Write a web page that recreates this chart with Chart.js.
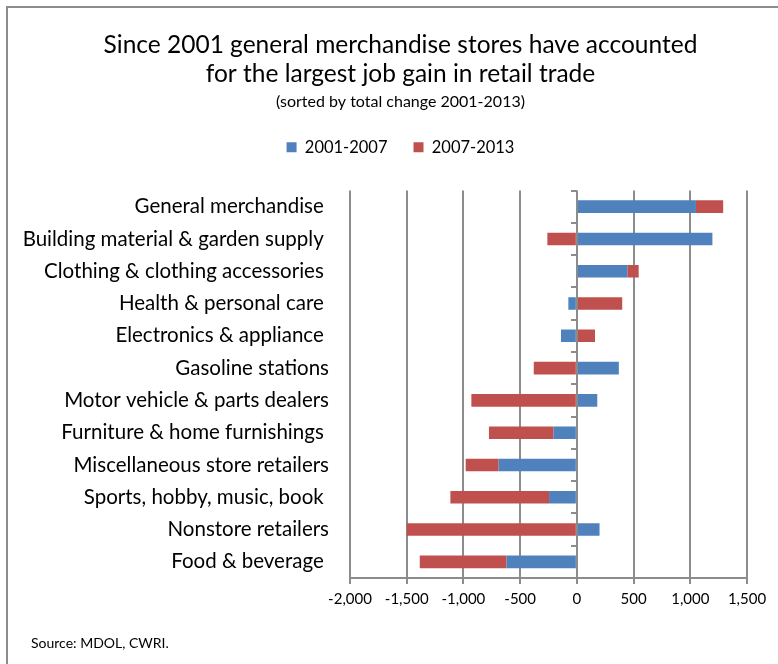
<!DOCTYPE html>
<html lang="en">
<head>
<meta charset="utf-8">
<title>Retail trade job change</title>
<script src="https://cdn.jsdelivr.net/npm/chart.js@4.4.0/dist/chart.umd.min.js"></script>
<style>
    html, body { margin: 0; padding: 0; background: #fff; }
    .c-wrapper { position: relative; width: 778px; height: 664px; overflow: hidden; }
    .c-frame {
        position: absolute; left: 6px; top: 6px; right: -10px; bottom: -10px;
        border-top: 2px solid #8c8c8c; border-left: 2px solid #8c8c8c;
    }
    .js-graph { position: absolute; left: 0; top: 0; }
    .c-source {
        position: absolute; left: 31px; top: 634px;
        font-family: Lato, sans-serif; font-size: 14px; color: #000;
    }
</style>
</head>
<body>
<div class="c-wrapper">
    <div class="c-frame"></div>
    <canvas class="js-graph" width="778" height="664"></canvas>
    <div class="c-source">Source: MDOL, CWRI.</div>
</div>
<script>
'use strict';

// Retail subsectors, sorted by total change 2001-2013
const categories = [
    'General merchandise ',
    'Building material & garden supply ',
    'Clothing & clothing accessories ',
    'Health & personal care ',
    'Electronics & appliance ',
    'Gasoline stations',
    'Motor vehicle & parts dealers',
    'Furniture & home furnishings ',
    'Miscellaneous store retailers',
    'Sports, hobby, music, book ',
    'Nonstore retailers',
    'Food & beverage '
];

// Job change per period
const change20012007 = [1050, 1195, 445, -75, -140, 370, 180, -205, -690, -245, 200, -620];
const change20072013 = [240, -260, 100, 400, 160, -380, -930, -570, -290, -870, -1500, -765];

const seriesLabels = ['2001-2007', '2007-2013'];
const xTicks = [-2000, -1500, -1000, -500, 0, 500, 1000, 1500];

const FONT = 'Lato, sans-serif';
const GRID = '#8c8c8c';

let chart;

// extra room between the legend and the plot
const legendGap = {
    id: 'legendGap',
    beforeInit(chart) {
        const fit = chart.legend.fit;
        chart.legend.fit = function() {
            fit.bind(chart.legend)();
            this.height += 25;
        };
    }
};

// title, subtitle and legend sit centred a bit right of the canvas middle
const headerShift = {
    id: 'headerShift',
    afterLayout(chart) {
        for (const box of chart.boxes) {
            if (box.position === 'top' && box.options && !box.axis) {
                box.left += 27;
                box.right += 27;
            }
        }
    }
};

const generateChart = function(canvas) {
    chart = new Chart(canvas, {
        type: 'bar',
        data: {
            labels: categories,
            datasets: [{
                label: seriesLabels[0],
                data: change20012007,
                backgroundColor: '#4f81bd',
                categoryPercentage: 1,
                barPercentage: 0.39
            }, {
                label: seriesLabels[1],
                data: change20072013,
                backgroundColor: '#c0504d',
                categoryPercentage: 1,
                barPercentage: 0.39
            }]
        },
        plugins: [legendGap, headerShift],
        options: {
            indexAxis: 'y',
            responsive: false,
            animation: false,
            layout: { padding: { left: 0, right: 31, top: 0, bottom: 0 } },
            plugins: {
                title: {
                    display: true,
                    text: ['Since 2001 general merchandise stores have accounted', 'for the largest job gain in retail trade'],
                    color: '#000',
                    font: { family: FONT, size: 24.5, weight: 'normal', lineHeight: 1.2 },
                    padding: { top: 30, bottom: 0 }
                },
                subtitle: {
                    display: true,
                    text: '(sorted by total change 2001-2013)',
                    color: '#000',
                    font: { family: FONT, size: 16, weight: 'normal', lineHeight: 1.2 },
                    padding: { top: 3, bottom: 2 }
                },
                legend: {
                    position: 'top',
                    labels: {
                        color: '#000',
                        font: { family: FONT, size: 16.5 },
                        boxWidth: 10,
                        boxHeight: 10,
                        padding: 26
                    }
                },
                tooltip: { enabled: false }
            },
            scales: {
                x: {
                    stacked: true,
                    min: xTicks[0],
                    max: xTicks[xTicks.length - 1],
                    afterBuildTicks: function(scale) {
                        scale.ticks = xTicks.map(v => ({ value: v }));
                    },
                    afterFit: function(scale) {
                        scale.height = 86;
                    },
                    grid: { color: GRID, lineWidth: 2, tickLength: 6 },
                    border: { color: GRID, width: 2 },
                    ticks: {
                        color: '#000',
                        font: { family: FONT, size: 15 },
                        padding: 6,
                        maxRotation: 0
                    }
                },
                y: {
                    stacked: true,
                    afterFit: function(scale) {
                        scale.width = 350;
                    },
                    grid: { display: false },
                    border: { display: false },
                    ticks: {
                        color: '#000',
                        font: { family: FONT, size: 20.5 },
                        padding: 13
                    }
                },
                // category axis crossing at zero, only its tick marks are drawn
                zeroAxis: {
                    type: 'category',
                    axis: 'y',
                    position: { x: 0 },
                    offset: true,
                    grid: { drawOnChartArea: false, drawTicks: true, tickLength: 6, color: GRID, lineWidth: 2, offset: true },
                    border: { display: false },
                    ticks: { display: false }
                }
            }
        }
    });
};

document.addEventListener('DOMContentLoaded', function() {
    generateChart(document.querySelector('.js-graph').getContext('2d'));
});
</script>
</body>
</html>
